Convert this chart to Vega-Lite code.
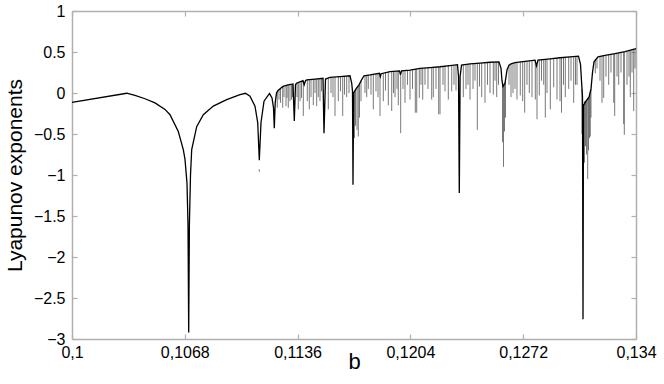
{
  "$schema": "https://vega.github.io/schema/vega-lite/v6.json",
  "width": 564,
  "height": 328,
  "autosize": {"type": "none"},
  "padding": {"left": 72, "top": 11, "right": 28, "bottom": 45},
  "background": "white",
  "config": {
    "view": {"stroke": null},
    "font": "Liberation Sans",
    "axis": {
      "grid": false,
      "domainColor": "#b0b0b0",
      "domainWidth": 1.5,
      "tickColor": "#b0b0b0",
      "tickWidth": 1.2,
      "tickSize": -5,
      "labelFont": "Liberation Sans",
      "labelFontSize": 16,
      "labelColor": "black",
      "labelFlush": false,
      "titleFont": "Liberation Sans",
      "titleFontWeight": "normal",
      "titleColor": "black"
    }
  },
  "datasets": {
    "curve": [
      {"b": 0.1, "lyap": -0.115},
      {"b": 0.103298, "lyap": -0.003},
      {"b": 0.103798, "lyap": -0.03},
      {"b": 0.104401, "lyap": -0.07},
      {"b": 0.105004, "lyap": -0.12},
      {"b": 0.105606, "lyap": -0.2},
      {"b": 0.105908, "lyap": -0.265},
      {"b": 0.106408, "lyap": -0.47},
      {"b": 0.10671, "lyap": -0.69},
      {"b": 0.106812, "lyap": -0.81},
      {"b": 0.106933, "lyap": -1.1},
      {"b": 0.106993, "lyap": -1.6},
      {"b": 0.107035, "lyap": -2.92},
      {"b": 0.107077, "lyap": -1.6},
      {"b": 0.107144, "lyap": -1.0},
      {"b": 0.107216, "lyap": -0.69},
      {"b": 0.107517, "lyap": -0.41},
      {"b": 0.107915, "lyap": -0.265},
      {"b": 0.108518, "lyap": -0.16},
      {"b": 0.109326, "lyap": -0.08},
      {"b": 0.110128, "lyap": -0.02},
      {"b": 0.110459, "lyap": -0.003},
      {"b": 0.110731, "lyap": -0.04},
      {"b": 0.111032, "lyap": -0.16},
      {"b": 0.111195, "lyap": -0.36},
      {"b": 0.111291, "lyap": -0.82},
      {"b": 0.111394, "lyap": -0.36},
      {"b": 0.111575, "lyap": -0.1},
      {"b": 0.111906, "lyap": -0.005},
      {"b": 0.112057, "lyap": -0.06},
      {"b": 0.112147, "lyap": -0.18},
      {"b": 0.112195, "lyap": -0.43},
      {"b": 0.11225, "lyap": -0.12},
      {"b": 0.112328, "lyap": 0.0},
      {"b": 0.112419, "lyap": 0.03},
      {"b": 0.11272, "lyap": 0.08},
      {"b": 0.113021, "lyap": 0.1},
      {"b": 0.113323, "lyap": 0.11},
      {"b": 0.113401, "lyap": -0.34},
      {"b": 0.113473, "lyap": 0.1},
      {"b": 0.113534, "lyap": 0.12},
      {"b": 0.113926, "lyap": 0.15},
      {"b": 0.113998, "lyap": 0.1},
      {"b": 0.114076, "lyap": 0.15},
      {"b": 0.114149, "lyap": 0.16},
      {"b": 0.114649, "lyap": 0.17},
      {"b": 0.115131, "lyap": 0.18},
      {"b": 0.115192, "lyap": -0.49},
      {"b": 0.115282, "lyap": 0.17},
      {"b": 0.115553, "lyap": 0.19},
      {"b": 0.116156, "lyap": 0.2},
      {"b": 0.116759, "lyap": 0.21},
      {"b": 0.116861, "lyap": 0.12},
      {"b": 0.11691, "lyap": 0.02},
      {"b": 0.11694, "lyap": -1.12},
      {"b": 0.116976, "lyap": 0.0},
      {"b": 0.117121, "lyap": 0.05},
      {"b": 0.117302, "lyap": 0.1},
      {"b": 0.117482, "lyap": 0.17},
      {"b": 0.117603, "lyap": 0.21},
      {"b": 0.117965, "lyap": 0.22},
      {"b": 0.118537, "lyap": 0.24},
      {"b": 0.118586, "lyap": 0.2},
      {"b": 0.11864, "lyap": 0.235},
      {"b": 0.11917, "lyap": 0.26},
      {"b": 0.119743, "lyap": 0.27},
      {"b": 0.119803, "lyap": 0.22},
      {"b": 0.119864, "lyap": 0.27},
      {"b": 0.120376, "lyap": 0.28},
      {"b": 0.120979, "lyap": 0.3},
      {"b": 0.121582, "lyap": 0.31},
      {"b": 0.122185, "lyap": 0.32},
      {"b": 0.122787, "lyap": 0.335},
      {"b": 0.123239, "lyap": 0.345},
      {"b": 0.1233, "lyap": 0.2},
      {"b": 0.123348, "lyap": -1.22},
      {"b": 0.123396, "lyap": 0.2},
      {"b": 0.123481, "lyap": 0.34},
      {"b": 0.123993, "lyap": 0.355},
      {"b": 0.124596, "lyap": 0.365},
      {"b": 0.125199, "lyap": 0.375},
      {"b": 0.125741, "lyap": 0.38},
      {"b": 0.125862, "lyap": 0.3},
      {"b": 0.125922, "lyap": 0.15},
      {"b": 0.125982, "lyap": 0.08},
      {"b": 0.126103, "lyap": 0.12},
      {"b": 0.126224, "lyap": 0.28},
      {"b": 0.126344, "lyap": 0.34},
      {"b": 0.126465, "lyap": 0.355},
      {"b": 0.126706, "lyap": 0.37},
      {"b": 0.127309, "lyap": 0.385},
      {"b": 0.127911, "lyap": 0.4},
      {"b": 0.128002, "lyap": 0.33},
      {"b": 0.128092, "lyap": 0.4},
      {"b": 0.128816, "lyap": 0.415},
      {"b": 0.129419, "lyap": 0.43},
      {"b": 0.130021, "lyap": 0.44},
      {"b": 0.130534, "lyap": 0.45},
      {"b": 0.130655, "lyap": 0.35},
      {"b": 0.130715, "lyap": 0.15},
      {"b": 0.130775, "lyap": -0.05},
      {"b": 0.130805, "lyap": -2.76},
      {"b": 0.130835, "lyap": -0.15},
      {"b": 0.130986, "lyap": -0.1},
      {"b": 0.131167, "lyap": -0.05},
      {"b": 0.131287, "lyap": 0.05},
      {"b": 0.131378, "lyap": 0.25},
      {"b": 0.131468, "lyap": 0.38},
      {"b": 0.131709, "lyap": 0.44},
      {"b": 0.132131, "lyap": 0.46},
      {"b": 0.132734, "lyap": 0.48},
      {"b": 0.133337, "lyap": 0.505},
      {"b": 0.134, "lyap": 0.54}
    ],
    "spikes": [
      {"b": 0.111291, "lo": -0.96, "hi": -0.93},
      {"b": 0.112376, "lo": -0.18, "hi": 0.015},
      {"b": 0.112479, "lo": -0.08, "hi": 0.04},
      {"b": 0.112569, "lo": -0.12, "hi": 0.06},
      {"b": 0.112702, "lo": -0.18, "hi": 0.075},
      {"b": 0.11278, "lo": -0.05, "hi": 0.08},
      {"b": 0.112901, "lo": -0.16, "hi": 0.09},
      {"b": 0.112961, "lo": -0.06, "hi": 0.095},
      {"b": 0.113039, "lo": -0.18, "hi": 0.1},
      {"b": 0.113141, "lo": -0.1, "hi": 0.1},
      {"b": 0.113232, "lo": -0.08, "hi": 0.105},
      {"b": 0.113293, "lo": -0.05, "hi": 0.105},
      {"b": 0.113564, "lo": -0.05, "hi": 0.12},
      {"b": 0.113642, "lo": -0.2, "hi": 0.13},
      {"b": 0.113745, "lo": -0.1, "hi": 0.135},
      {"b": 0.113835, "lo": -0.06, "hi": 0.14},
      {"b": 0.113944, "lo": -0.28, "hi": 0.14},
      {"b": 0.114185, "lo": -0.1, "hi": 0.16},
      {"b": 0.114305, "lo": -0.2, "hi": 0.16},
      {"b": 0.114408, "lo": -0.05, "hi": 0.165},
      {"b": 0.114547, "lo": -0.15, "hi": 0.165},
      {"b": 0.114649, "lo": 0.0, "hi": 0.17},
      {"b": 0.114751, "lo": -0.16, "hi": 0.17},
      {"b": 0.114848, "lo": -0.05, "hi": 0.175},
      {"b": 0.11495, "lo": -0.1, "hi": 0.175},
      {"b": 0.115041, "lo": 0.02, "hi": 0.175},
      {"b": 0.115451, "lo": -0.2, "hi": 0.18},
      {"b": 0.115614, "lo": 0.0, "hi": 0.19},
      {"b": 0.115734, "lo": -0.05, "hi": 0.19},
      {"b": 0.115855, "lo": -0.28, "hi": 0.195},
      {"b": 0.116054, "lo": -0.1, "hi": 0.2},
      {"b": 0.116186, "lo": 0.02, "hi": 0.2},
      {"b": 0.116319, "lo": -0.28, "hi": 0.2},
      {"b": 0.116427, "lo": -0.02, "hi": 0.205},
      {"b": 0.11656, "lo": -0.05, "hi": 0.205},
      {"b": 0.116699, "lo": 0.0, "hi": 0.21},
      {"b": 0.11697, "lo": -0.45, "hi": 0.0},
      {"b": 0.11703, "lo": -0.55, "hi": 0.02},
      {"b": 0.117091, "lo": -0.4, "hi": 0.04},
      {"b": 0.117181, "lo": -0.45, "hi": 0.07},
      {"b": 0.117259, "lo": -0.53, "hi": 0.09},
      {"b": 0.117332, "lo": -0.3, "hi": 0.11},
      {"b": 0.117422, "lo": -0.1, "hi": 0.15},
      {"b": 0.117663, "lo": 0.0, "hi": 0.21},
      {"b": 0.117766, "lo": -0.05, "hi": 0.215},
      {"b": 0.117862, "lo": 0.05, "hi": 0.22},
      {"b": 0.118025, "lo": -0.02, "hi": 0.22},
      {"b": 0.118164, "lo": -0.2, "hi": 0.225},
      {"b": 0.118326, "lo": 0.02, "hi": 0.23},
      {"b": 0.118447, "lo": -0.05, "hi": 0.235},
      {"b": 0.118567, "lo": -0.28, "hi": 0.22},
      {"b": 0.118766, "lo": -0.1, "hi": 0.24},
      {"b": 0.118899, "lo": 0.03, "hi": 0.245},
      {"b": 0.119068, "lo": -0.15, "hi": 0.255},
      {"b": 0.119273, "lo": -0.22, "hi": 0.26},
      {"b": 0.119381, "lo": 0.0, "hi": 0.265},
      {"b": 0.119472, "lo": -0.05, "hi": 0.265},
      {"b": 0.119592, "lo": 0.05, "hi": 0.27},
      {"b": 0.119671, "lo": -0.15, "hi": 0.27},
      {"b": 0.119815, "lo": -0.49, "hi": 0.22},
      {"b": 0.119954, "lo": 0.05, "hi": 0.27},
      {"b": 0.120075, "lo": -0.12, "hi": 0.275},
      {"b": 0.120225, "lo": 0.1, "hi": 0.28},
      {"b": 0.120376, "lo": -0.08, "hi": 0.28},
      {"b": 0.120527, "lo": 0.05, "hi": 0.285},
      {"b": 0.120696, "lo": -0.24, "hi": 0.29},
      {"b": 0.12078, "lo": -0.24, "hi": 0.295},
      {"b": 0.120937, "lo": -0.06, "hi": 0.3},
      {"b": 0.121039, "lo": 0.1, "hi": 0.3},
      {"b": 0.121142, "lo": -0.08, "hi": 0.305},
      {"b": 0.12128, "lo": 0.1, "hi": 0.305},
      {"b": 0.121461, "lo": 0.05, "hi": 0.31},
      {"b": 0.121684, "lo": -0.08, "hi": 0.31},
      {"b": 0.12178, "lo": -0.05, "hi": 0.315},
      {"b": 0.121943, "lo": 0.05, "hi": 0.315},
      {"b": 0.122106, "lo": -0.26, "hi": 0.32},
      {"b": 0.122185, "lo": -0.26, "hi": 0.32},
      {"b": 0.122365, "lo": 0.1, "hi": 0.325},
      {"b": 0.122486, "lo": 0.02, "hi": 0.33},
      {"b": 0.122685, "lo": -0.08, "hi": 0.335},
      {"b": 0.12289, "lo": 0.02, "hi": 0.34},
      {"b": 0.123028, "lo": 0.1, "hi": 0.34},
      {"b": 0.123149, "lo": 0.03, "hi": 0.345},
      {"b": 0.123589, "lo": -0.05, "hi": 0.345},
      {"b": 0.123752, "lo": 0.05, "hi": 0.35},
      {"b": 0.123872, "lo": 0.1, "hi": 0.35},
      {"b": 0.123993, "lo": -0.08, "hi": 0.355},
      {"b": 0.124174, "lo": 0.05, "hi": 0.36},
      {"b": 0.124294, "lo": 0.15, "hi": 0.36},
      {"b": 0.124433, "lo": -0.45, "hi": 0.36},
      {"b": 0.124566, "lo": 0.08, "hi": 0.365},
      {"b": 0.124698, "lo": -0.05, "hi": 0.365},
      {"b": 0.124897, "lo": -0.12, "hi": 0.37},
      {"b": 0.125048, "lo": 0.1, "hi": 0.37},
      {"b": 0.125199, "lo": 0.0, "hi": 0.375},
      {"b": 0.125398, "lo": -0.02, "hi": 0.375},
      {"b": 0.1255, "lo": 0.15, "hi": 0.38},
      {"b": 0.125603, "lo": -0.05, "hi": 0.38},
      {"b": 0.125711, "lo": 0.1, "hi": 0.38},
      {"b": 0.125952, "lo": -0.6, "hi": 0.12},
      {"b": 0.126013, "lo": -0.9, "hi": 0.09},
      {"b": 0.126073, "lo": -0.47, "hi": 0.1},
      {"b": 0.126133, "lo": -0.3, "hi": 0.15},
      {"b": 0.126344, "lo": 0.1, "hi": 0.34},
      {"b": 0.126465, "lo": -0.05, "hi": 0.355},
      {"b": 0.126585, "lo": 0.0, "hi": 0.36},
      {"b": 0.126706, "lo": 0.05, "hi": 0.37},
      {"b": 0.126826, "lo": -0.08, "hi": 0.375},
      {"b": 0.127025, "lo": -0.03, "hi": 0.38},
      {"b": 0.12717, "lo": -0.1, "hi": 0.38},
      {"b": 0.12729, "lo": -0.24, "hi": 0.385},
      {"b": 0.127429, "lo": 0.1, "hi": 0.39},
      {"b": 0.127568, "lo": 0.0, "hi": 0.39},
      {"b": 0.127731, "lo": -0.05, "hi": 0.395},
      {"b": 0.12793, "lo": -0.08, "hi": 0.4},
      {"b": 0.128032, "lo": -0.32, "hi": 0.35},
      {"b": 0.128171, "lo": -0.03, "hi": 0.4},
      {"b": 0.128303, "lo": 0.15, "hi": 0.405},
      {"b": 0.128436, "lo": 0.1, "hi": 0.41},
      {"b": 0.128533, "lo": -0.3, "hi": 0.41},
      {"b": 0.128635, "lo": 0.0, "hi": 0.41},
      {"b": 0.128834, "lo": -0.2, "hi": 0.415},
      {"b": 0.129039, "lo": 0.07, "hi": 0.42},
      {"b": 0.129238, "lo": -0.08, "hi": 0.425},
      {"b": 0.129419, "lo": -0.1, "hi": 0.43},
      {"b": 0.129509, "lo": -0.24, "hi": 0.43},
      {"b": 0.12963, "lo": 0.1, "hi": 0.435},
      {"b": 0.129738, "lo": -0.05, "hi": 0.435},
      {"b": 0.129943, "lo": 0.05, "hi": 0.44},
      {"b": 0.130082, "lo": 0.15, "hi": 0.44},
      {"b": 0.130244, "lo": -0.12, "hi": 0.445},
      {"b": 0.130353, "lo": 0.1, "hi": 0.445},
      {"b": 0.130443, "lo": 0.1, "hi": 0.45},
      {"b": 0.130745, "lo": -0.5, "hi": 0.05},
      {"b": 0.130896, "lo": -0.85, "hi": -0.1},
      {"b": 0.130956, "lo": -0.65, "hi": -0.1},
      {"b": 0.131016, "lo": -0.75, "hi": -0.08},
      {"b": 0.131088, "lo": -1.05, "hi": -0.06},
      {"b": 0.131137, "lo": -0.7, "hi": -0.05},
      {"b": 0.131197, "lo": -0.55, "hi": -0.02},
      {"b": 0.131245, "lo": -0.53, "hi": 0.02},
      {"b": 0.131287, "lo": -0.3, "hi": 0.05},
      {"b": 0.131547, "lo": 0.24, "hi": 0.41},
      {"b": 0.131649, "lo": 0.3, "hi": 0.43},
      {"b": 0.13183, "lo": 0.15, "hi": 0.445},
      {"b": 0.131951, "lo": -0.12, "hi": 0.45},
      {"b": 0.132053, "lo": -0.06, "hi": 0.455},
      {"b": 0.132192, "lo": 0.2, "hi": 0.46},
      {"b": 0.132354, "lo": 0.1, "hi": 0.465},
      {"b": 0.132493, "lo": 0.25, "hi": 0.47},
      {"b": 0.132656, "lo": -0.12, "hi": 0.475},
      {"b": 0.132716, "lo": -0.28, "hi": 0.48},
      {"b": 0.132855, "lo": 0.2, "hi": 0.485},
      {"b": 0.132957, "lo": 0.1, "hi": 0.49},
      {"b": 0.133096, "lo": 0.25, "hi": 0.495},
      {"b": 0.133258, "lo": -0.38, "hi": 0.5},
      {"b": 0.133295, "lo": -0.51, "hi": 0.5},
      {"b": 0.133458, "lo": 0.1, "hi": 0.51},
      {"b": 0.133578, "lo": 0.2, "hi": 0.515},
      {"b": 0.133657, "lo": -0.05, "hi": 0.52},
      {"b": 0.133759, "lo": 0.25, "hi": 0.525},
      {"b": 0.133862, "lo": -0.22, "hi": 0.53},
      {"b": 0.133941, "lo": 0.3, "hi": 0.535}
    ]
  },
  "resolve": {"axis": {"x": "independent", "y": "independent"}},
  "layer": [
    {
      "data": {"name": "spikes"},
      "mark": {"type": "rule", "color": "#555555", "strokeWidth": 0.8},
      "encoding": {
        "x": {"field": "b", "type": "quantitative",
              "scale": {"domain": [0.1, 0.134], "nice": false, "zero": false},
              "axis": {"orient": "top", "labels": false, "title": null, "values": [0.1, 0.1068, 0.1136, 0.1204, 0.1272, 0.134]}},
        "y": {"field": "lo", "type": "quantitative",
              "scale": {"domain": [-3, 1], "nice": false, "zero": false},
              "axis": {"orient": "right", "labels": false, "title": null, "values": [-3, -2.5, -2, -1.5, -1, -0.5, 0, 0.5, 1]}},
        "y2": {"field": "hi"}
      }
    },
    {
      "data": {"name": "curve"},
      "mark": {"type": "line", "color": "black", "strokeWidth": 1.3, "interpolate": "linear"},
      "encoding": {
        "x": {"field": "b", "type": "quantitative",
              "axis": {"orient": "bottom", "title": "b", "titleFontSize": 22, "titlePadding": -9, "labelPadding": 10,
                       "values": [0.1, 0.1068, 0.1136, 0.1204, 0.1272, 0.134],
                       "labelExpr": "replace(format(datum.value, '~g'), '.', ',')"}},
        "y": {"field": "lyap", "type": "quantitative",
              "axis": {"orient": "left", "title": "Lyapunov exponents", "titleFontSize": 21, "titlePadding": 8, "labelPadding": 12,
                       "values": [-3, -2.5, -2, -1.5, -1, -0.5, 0, 0.5, 1], "format": "~g"}}
      }
    },
    {
      "mark": {"type": "rule", "color": "black", "strokeWidth": 1},
      "encoding": {"y": {"datum": 0, "type": "quantitative", "axis": null}}
    }
  ]
}
